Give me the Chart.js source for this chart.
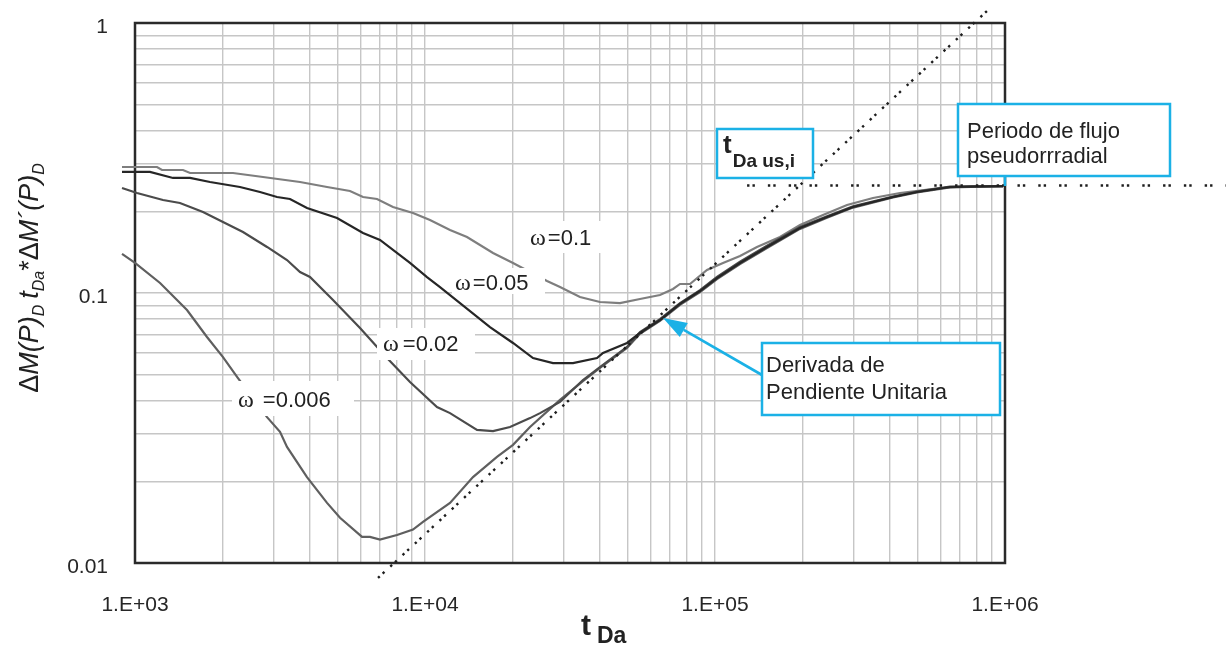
<!DOCTYPE html>
<html>
<head>
<meta charset="utf-8">
<script src="https://cdn.jsdelivr.net/npm/chart.js@4.4.1/dist/chart.umd.min.js"></script>
<style>
  html, body { margin: 0; padding: 0; background: #fff; }
</style>
</head>
<body>
<canvas id="grafico" width="1226" height="647"></canvas>
<script>
// decadas y etiquetas de los ejes log-log
const xDecadas = [1e3, 1e4, 1e5, 1e6];
const xEtiquetas = ['1.E+03', '1.E+04', '1.E+05', '1.E+06'];
const yDecadas = [0.01, 0.1, 1];
const yEtiquetas = ['0.01', '0.1', '1'];
const mantisas = [1, 2, 3, 4, 5, 6, 7, 8, 9];

// omega = 0.1
const tDa_w01 = [902, 1191, 1239, 1464, 1548, 2177, 2763, 3707, 4594, 5512, 6113, 6831, 7756, 9091, 10404, 12197, 13956, 17163, 20114, 26346, 29215, 34226, 40116, 47020, 55120, 64600, 71650, 75740, 81990, 93840, 106560, 121970, 139560, 167530, 196400, 235740, 285300, 350500, 434500, 596900, 775600, 984200];
const der_w01 = [0.2929, 0.2929, 0.2855, 0.2855, 0.2783, 0.2783, 0.2690, 0.2577, 0.2469, 0.2386, 0.2268, 0.2229, 0.2083, 0.1979, 0.1864, 0.1712, 0.1612, 0.1406, 0.1292, 0.1108, 0.1052, 0.0966, 0.0926, 0.0918, 0.0950, 0.0983, 0.1035, 0.1080, 0.1080, 0.1217, 0.1292, 0.1371, 0.1481, 0.1612, 0.1786, 0.1945, 0.2118, 0.2248, 0.2346, 0.2448, 0.2490, 0.2490];

// omega = 0.05
const tDa_w005 = [902, 1126, 1352, 1548, 1814, 2301, 2698, 3088, 3423, 3918, 4973, 6113, 6995, 8877, 10160, 11265, 13204, 16753, 20114, 23574, 27630, 32378, 39180, 41110, 49730, 55120, 64600, 75740, 88770, 101600, 121970, 151100, 196400, 243400, 299200, 411100, 497300, 646000, 984200];
const der_w005 = [0.2807, 0.2807, 0.2667, 0.2667, 0.2577, 0.2469, 0.2366, 0.2268, 0.2229, 0.2065, 0.1896, 0.1668, 0.1572, 0.1292, 0.1146, 0.1052, 0.0918, 0.0748, 0.0653, 0.0574, 0.0550, 0.0550, 0.0574, 0.0600, 0.0653, 0.0711, 0.0794, 0.0911, 0.1017, 0.1136, 0.1292, 0.1481, 0.1741, 0.1912, 0.2083, 0.2268, 0.2366, 0.2469, 0.2490];

// omega = 0.02
const tDa_w002 = [902, 1016, 1249, 1429, 1716, 2011, 2357, 2853, 3343, 3707, 4012, 4817, 5969, 7396, 8877, 10999, 12197, 15110, 17163, 19640, 23020, 24930, 29215, 35050, 40116, 49730, 55120, 64600, 75740, 88770, 101600, 121970, 151100, 196400, 243400, 299200, 411100, 497300, 646000, 984200];
const der_w002 = [0.2448, 0.2346, 0.2210, 0.2154, 0.1995, 0.1832, 0.1682, 0.1481, 0.1325, 0.1196, 0.1146, 0.0942, 0.0742, 0.0574, 0.0468, 0.0378, 0.0359, 0.0311, 0.0308, 0.0319, 0.0344, 0.0359, 0.0395, 0.0476, 0.0532, 0.0631, 0.0716, 0.0800, 0.0918, 0.1025, 0.1146, 0.1305, 0.1496, 0.1757, 0.1925, 0.2095, 0.2275, 0.2375, 0.2478, 0.2490];

// omega = 0.006
const tDa_w0006 = [902, 1000, 1220, 1511, 1771, 2011, 2265, 2853, 3162, 3343, 3918, 4594, 5093, 6065, 6460, 6995, 8007, 9091, 9842, 12197, 14640, 17710, 20114, 23020, 29215, 35050, 40116, 49730, 55120, 64600, 75740, 88770, 101600, 121970, 151100, 196400, 243400, 299200, 411100, 497300, 646000, 984200];
const der_w0006 = [0.1395, 0.1292, 0.1089, 0.0865, 0.0687, 0.0579, 0.0484, 0.0347, 0.0306, 0.0269, 0.0208, 0.0167, 0.0147, 0.0125, 0.0125, 0.0122, 0.0127, 0.0133, 0.0142, 0.0167, 0.0208, 0.0247, 0.0274, 0.0319, 0.0402, 0.0472, 0.0528, 0.0626, 0.0706, 0.0788, 0.0904, 0.1008, 0.1126, 0.1280, 0.1468, 0.1728, 0.1900, 0.2072, 0.2260, 0.2360, 0.2462, 0.2490];

// recta de pendiente unitaria y periodo pseudorradial
const tDa_pendiente = [6885, 887000];
const der_pendiente = [0.0088, 1.134];
const tDa_radial = [129000, 5780000];
const der_radial = [0.25, 0.25];

const FUENTE = "'Liberation Sans', Arial, sans-serif";
const CIAN = '#1bb1e6';

const puntos = (xs, ys) => xs.map((x, i) => ({ x, y: ys[i] }));

const gridTicks = (decadas) => {
  const out = [];
  decadas.forEach((d, i) => {
    if (i === decadas.length - 1) { out.push(d); return; }
    mantisas.forEach(m => out.push(+(m * d).toPrecision(6)));
  });
  return out;
};

const etiquetaDecada = (decadas, etiquetas) => (value) => {
  const i = decadas.findIndex(d => Math.abs(d - value) / d < 1e-6);
  return i >= 0 ? etiquetas[i] : '';
};

const curva = (label, xs, ys, color) => ({
  label, data: puntos(xs, ys), borderColor: color, borderWidth: 2.2,
  showLine: true, pointRadius: 0, tension: 0, clip: false
});

const punteada = (label, xs, ys, dash) => ({
  label, data: puntos(xs, ys), borderColor: '#1e1e1e', borderWidth: 2.4,
  borderDash: dash, borderCapStyle: 'butt', showLine: true, pointRadius: 0, clip: false
});

// texto con partes en subindice, en linea
const textoCompuesto = (ctx, partes, x, y) => {
  let cx = x;
  partes.forEach(p => {
    ctx.font = p.font;
    ctx.fillText(p.t, cx, y + (p.dy || 0));
    cx += ctx.measureText(p.t).width + (p.gap || 0);
  });
  return cx - x;
};

const anchoCompuesto = (ctx, partes) => partes.reduce((a, p) => {
  ctx.font = p.font;
  return a + ctx.measureText(p.t).width + (p.gap || 0);
}, 0);

const etiquetasOmega = [
  { texto: '=0.1', caja: [525, 221, 90, 32], tx: 530, ty: 245, gap: 2 },
  { texto: '=0.05', caja: [452, 268, 93, 26], tx: 455, ty: 290, gap: 2 },
  { texto: '=0.02', caja: [377, 328, 98, 32], tx: 383, ty: 351, gap: 4 },
  { texto: '=0.006', caja: [232, 381, 122, 35], tx: 238, ty: 407, gap: 9 }
];

// marco del area de trazado y etiquetas del eje y
const marco = {
  id: 'marco',
  beforeDatasetsDraw(chart) {
    const { ctx, chartArea: a, scales } = chart;
    ctx.save();
    ctx.strokeStyle = '#2a2a2a';
    ctx.lineWidth = 2.5;
    ctx.strokeRect(a.left, a.top, a.right - a.left, a.bottom - a.top);
    ctx.fillStyle = '#262626';
    ctx.font = '21px ' + FUENTE;
    ctx.textAlign = 'right';
    ctx.textBaseline = 'middle';
    yDecadas.forEach((d, i) => {
      ctx.fillText(yEtiquetas[i], a.left - 27, scales.y.getPixelForValue(d) + 4);
    });
    ctx.restore();
  }
};

const anotaciones = {
  id: 'anotaciones',
  afterDatasetsDraw(chart) {
    const { ctx } = chart;
    ctx.save();
    ctx.textBaseline = 'alphabetic';
    ctx.fillStyle = '#222';

    etiquetasOmega.forEach(e => {
      ctx.fillStyle = '#fff';
      ctx.fillRect(...e.caja);
      ctx.fillStyle = '#222';
      textoCompuesto(ctx, [
        { t: '\u03c9', font: "24px 'Liberation Serif', 'Times New Roman', serif", gap: e.gap },
        { t: e.texto, font: '22px ' + FUENTE }
      ], e.tx, e.ty);
    });

    const caja = (x, y, w, h) => {
      ctx.fillStyle = '#fff';
      ctx.fillRect(x, y, w, h);
      ctx.strokeStyle = CIAN;
      ctx.lineWidth = 2.5;
      ctx.strokeRect(x, y, w, h);
      ctx.fillStyle = '#222';
    };

    // t Da us,i
    caja(717, 129, 96, 49);
    textoCompuesto(ctx, [
      { t: 't', font: 'bold 26px ' + FUENTE, gap: 1 },
      { t: 'Da us,i', font: 'bold 19px ' + FUENTE, dy: 14 }
    ], 723, 153);

    // periodo de flujo pseudorradial
    ctx.strokeStyle = CIAN;
    ctx.lineWidth = 2.5;
    ctx.beginPath();
    ctx.moveTo(1005, 176);
    ctx.lineTo(1005, 186);
    ctx.stroke();
    caja(958, 104, 212, 72);
    ctx.font = '22px ' + FUENTE;
    ctx.fillText('Periodo de flujo', 967, 138);
    ctx.fillText('pseudorrradial', 967, 163);

    // derivada de pendiente unitaria con flecha
    const ini = [762, 375], punta = [663, 318];
    const dx = punta[0] - ini[0], dy = punta[1] - ini[1];
    const L = Math.hypot(dx, dy), ux = dx / L, uy = dy / L;
    const largo = 24, medio = 8;
    const bx = punta[0] - ux * largo, by = punta[1] - uy * largo;
    ctx.strokeStyle = CIAN;
    ctx.lineWidth = 2.6;
    ctx.beginPath();
    ctx.moveTo(ini[0], ini[1]);
    ctx.lineTo(bx, by);
    ctx.stroke();
    ctx.fillStyle = CIAN;
    ctx.beginPath();
    ctx.moveTo(punta[0], punta[1]);
    ctx.lineTo(bx - uy * medio, by + ux * medio);
    ctx.lineTo(bx + uy * medio, by - ux * medio);
    ctx.closePath();
    ctx.fill();
    caja(762, 343, 238, 72);
    ctx.font = '22px ' + FUENTE;
    ctx.fillText('Derivada de', 766, 372);
    ctx.fillText('Pendiente Unitaria', 766, 399);

    // titulo eje x
    ctx.fillStyle = '#222';
    textoCompuesto(ctx, [
      { t: 't', font: 'bold 30px ' + FUENTE, gap: 6 },
      { t: 'Da', font: 'bold 23px ' + FUENTE, dy: 8 }
    ], 581, 635);

    // titulo eje y (rotado)
    const partesY = [
      { t: '\u0394', font: '27px ' + FUENTE },
      { t: 'M(P)', font: 'italic 27px ' + FUENTE },
      { t: 'D', font: 'italic 16px ' + FUENTE, dy: 6, gap: 6 },
      { t: 't', font: 'italic 27px ' + FUENTE },
      { t: 'Da', font: 'italic 16px ' + FUENTE, dy: 6 },
      { t: '*', font: '27px ' + FUENTE },
      { t: '\u0394', font: '27px ' + FUENTE },
      { t: 'M\u00b4(P)', font: 'italic 27px ' + FUENTE },
      { t: 'D', font: 'italic 16px ' + FUENTE, dy: 6 }
    ];
    const ancho = anchoCompuesto(ctx, partesY);
    ctx.save();
    ctx.translate(38, 278);
    ctx.rotate(-Math.PI / 2);
    textoCompuesto(ctx, partesY, -ancho / 2, 0);
    ctx.restore();

    ctx.restore();
  }
};

const ejeLog = (min, max, decadas, etiquetas, extra) => Object.assign({
  type: 'logarithmic',
  min, max,
  afterBuildTicks: (scale) => {
    scale.ticks = gridTicks(decadas).map(v => ({ value: v }));
  },
  grid: { color: '#c6c6c6', lineWidth: 1.4, drawTicks: false },
  border: { display: false },
  ticks: {
    autoSkip: false, maxRotation: 0, color: '#262626',
    font: { family: FUENTE, size: 21 },
    callback: etiquetaDecada(decadas, etiquetas)
  }
}, extra);

const config = {
  type: 'scatter',
  data: {
    datasets: [
      punteada('pendiente unitaria', tDa_pendiente, der_pendiente, [2.4, 4, 2.4, 8]),
      punteada('pseudorradial', tDa_radial, der_radial, [2.4, 3, 2.4, 13]),
      curva('\u03c9=0.05', tDa_w005, der_w005, '#262626'),
      curva('\u03c9=0.02', tDa_w002, der_w002, '#4b4b4b'),
      curva('\u03c9=0.006', tDa_w0006, der_w0006, '#5f5f5f'),
      curva('\u03c9=0.1', tDa_w01, der_w01, '#7e7e7e')
    ]
  },
  options: {
    responsive: false,
    animation: false,
    devicePixelRatio: 1,
    layout: { padding: { top: 23, right: 221, left: 0, bottom: 0 } },
    plugins: { legend: { display: false }, tooltip: { enabled: false } },
    scales: {
      x: ejeLog(1e3, 1e6, xDecadas, xEtiquetas, {
        position: 'bottom',
        afterFit: (scale) => { scale.height = 84; }
      }),
      y: ejeLog(0.01, 1, yDecadas, yEtiquetas, {
        position: 'left',
        afterFit: (scale) => { scale.width = 135; }
      })
    }
  },
  plugins: [marco, anotaciones]
};

config.options.scales.x.ticks.padding = 30;
config.options.scales.y.ticks.display = false;
config.options.scales.y.ticks.padding = 0;

new Chart(document.getElementById('grafico'), config);
</script>
</body>
</html>
